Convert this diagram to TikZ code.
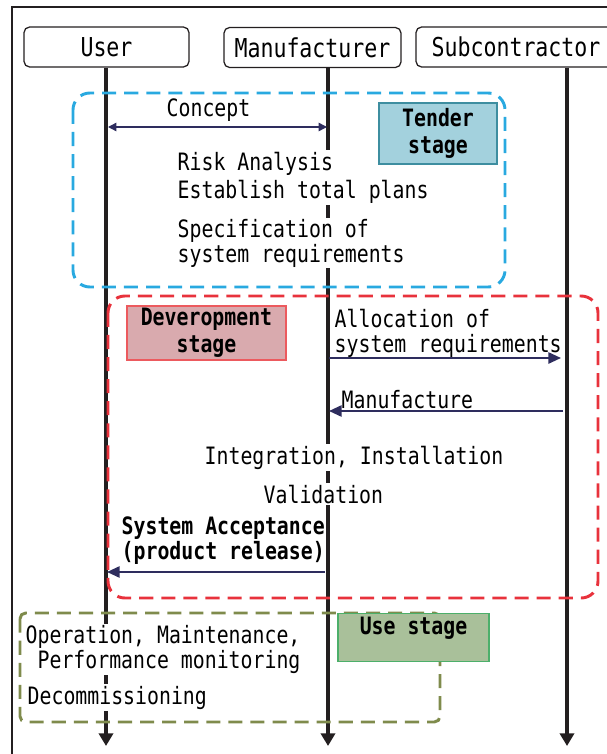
\documentclass[tikz,border=0pt]{standalone}
\usepackage{fontspec}
\newfontfamily\gfont[FakeStretch=0.83]{DejaVu Sans Mono}
\usetikzlibrary{positioning}
\usetikzlibrary{arrows.meta}
\definecolor{lifeblack}{HTML}{231F20}
\definecolor{msgnavy}{HTML}{2E2D5E}
\definecolor{tenderline}{HTML}{29A9E0}
\definecolor{devline}{HTML}{E8323C}
\definecolor{useline}{HTML}{7F8B4C}
\definecolor{tenderfill}{HTML}{A3D1DD}
\definecolor{tenderedge}{HTML}{3E8EA0}
\definecolor{devfill}{HTML}{D9AAAE}
\definecolor{devedge}{HTML}{EC5A5E}
\definecolor{usefill}{HTML}{A9C09A}
\definecolor{useedge}{HTML}{4CAF6A}
\tikzset{x=0.025cm, y=-0.025cm,
actor/.style={ % header boxes of the three parties
draw=lifeblack, line width=0.9pt,
rounded corners=4pt,
minimum height=1cm,
font=\gfont\fontsize{18.5}{20}\selectfont},
lifeline/.style={ % vertical time axis
draw=lifeblack, line width=2.8pt,
-{Triangle[length=9pt,width=10pt]}},
msg/.style={ % messages between parties
draw=msgnavy, line width=1.4pt,
-{Triangle[length=9pt,width=8pt]}},
txt/.style={ % plain step texts
fill=white, inner sep=1pt,
anchor=base west, align=left,
font=\gfont\fontsize{17}{17.5}\selectfont},
bold txt/.style={txt,
font=\gfont\bfseries\fontsize{17}{17.5}\selectfont},
stagebox/.style={ % coloured stage labels
line width=0.8pt, align=center, inner sep=0pt,
font=\gfont\bfseries\fontsize{17}{19}\selectfont},
phase/.style={ % dashed stage frames
line width=2.1pt, dash pattern=on 10pt off 5.7pt}}

\begin{document}
\begin{tikzpicture}
\useasboundingbox (0,0) rectangle (606,754);
% outer frame
\draw[lifeblack, line width=1.4pt] (612,7) -- (12,7) -- (12,760);

% parties
\node[actor, minimum width=4.125cm] (user) at (106.5,47) {User};
\node[actor, minimum width=4.425cm] (maker) at (312.5,47.5) {Manufacturer};
\node[actor, minimum width=5cm] (sub) at (516,47) {Subcontractor};

% lifelines
\coordinate (userEnd) at (106,746);
\coordinate (makerEnd) at (328,746);
\coordinate (subEnd) at (567,746);
\draw[lifeline] (user.south -| userEnd) -- (userEnd);
\draw[lifeline] (maker.south -| makerEnd) -- (makerEnd);
\draw[lifeline] (sub.south -| subEnd) -- (subEnd);

% tender stage (multi-line texts sit on their last baseline)
\node[txt, fill=none] (concept) at (165,117) {Concept};
\node[txt] (risk) at (176,199) {Risk Analysis\\[3pt]Establish total plans};
\node[txt] (spec) at (176,262) {Specification of\\system requirements};

% development stage
\node[txt] (alloc) at (333,352) {Allocation of\\system requirements};
\node[txt, fill=none] (manuf) at (340,408) {Manufacture};
\node[txt] (integ) at (203,464) {Integration, Installation};
\node[txt] (valid) at (262,503) {Validation};
\node[bold txt] (accept) at (120,559) {System Acceptance\\(product release)};

% use stage
\node[txt] (oper) at (24,668) {Operation, Maintenance,\\\ Performance monitoring};
\node[txt] (decom) at (26,704) {Decommissioning};

% stage frames
\draw[phase, tenderline, rounded corners=12pt] (73,93) rectangle (505,287);
\draw[phase, devline, rounded corners=12pt] (108,296) rectangle (598,598);
\draw[phase, useline, rounded corners=4pt] (20,613) rectangle (440,722);

% stage labels
\node[stagebox, draw=tenderedge, fill=tenderfill,
  minimum width=2.95cm, minimum height=1.525cm] (tender) at (438,133.5) {Tender\\stage};
\node[stagebox, draw=devedge, fill=devfill,
  minimum width=3.975cm, minimum height=1.35cm] (devel) at (206.5,333) {Deveropment\\stage};
\node[stagebox, draw=useedge, fill=usefill, anchor=north,
  minimum width=3.775cm, text height=0.475cm, text depth=0.625cm,
  inner ysep=0.05cm] (use) at (413.5,613) {Use stage};

% messages
\coordinate (c1) at (108,127);
\coordinate (c2) at (327,127);
\coordinate (a1) at (329,358);
\coordinate (a2) at (561,358);
\coordinate (m1) at (563,411);
\coordinate (m2) at (329,411);
\coordinate (s1) at (325,572);
\coordinate (s2) at (107,572);
\draw[msg, {Triangle[length=6pt,width=6pt]}-{Triangle[length=6pt,width=6pt]}, line width=1pt] (c1) -- (c2);
\draw[msg] (a1) -- (a2);
\draw[msg] (m1) -- (m2);
\draw[msg] (s1) -- (s2);
\end{tikzpicture}
\end{document}
